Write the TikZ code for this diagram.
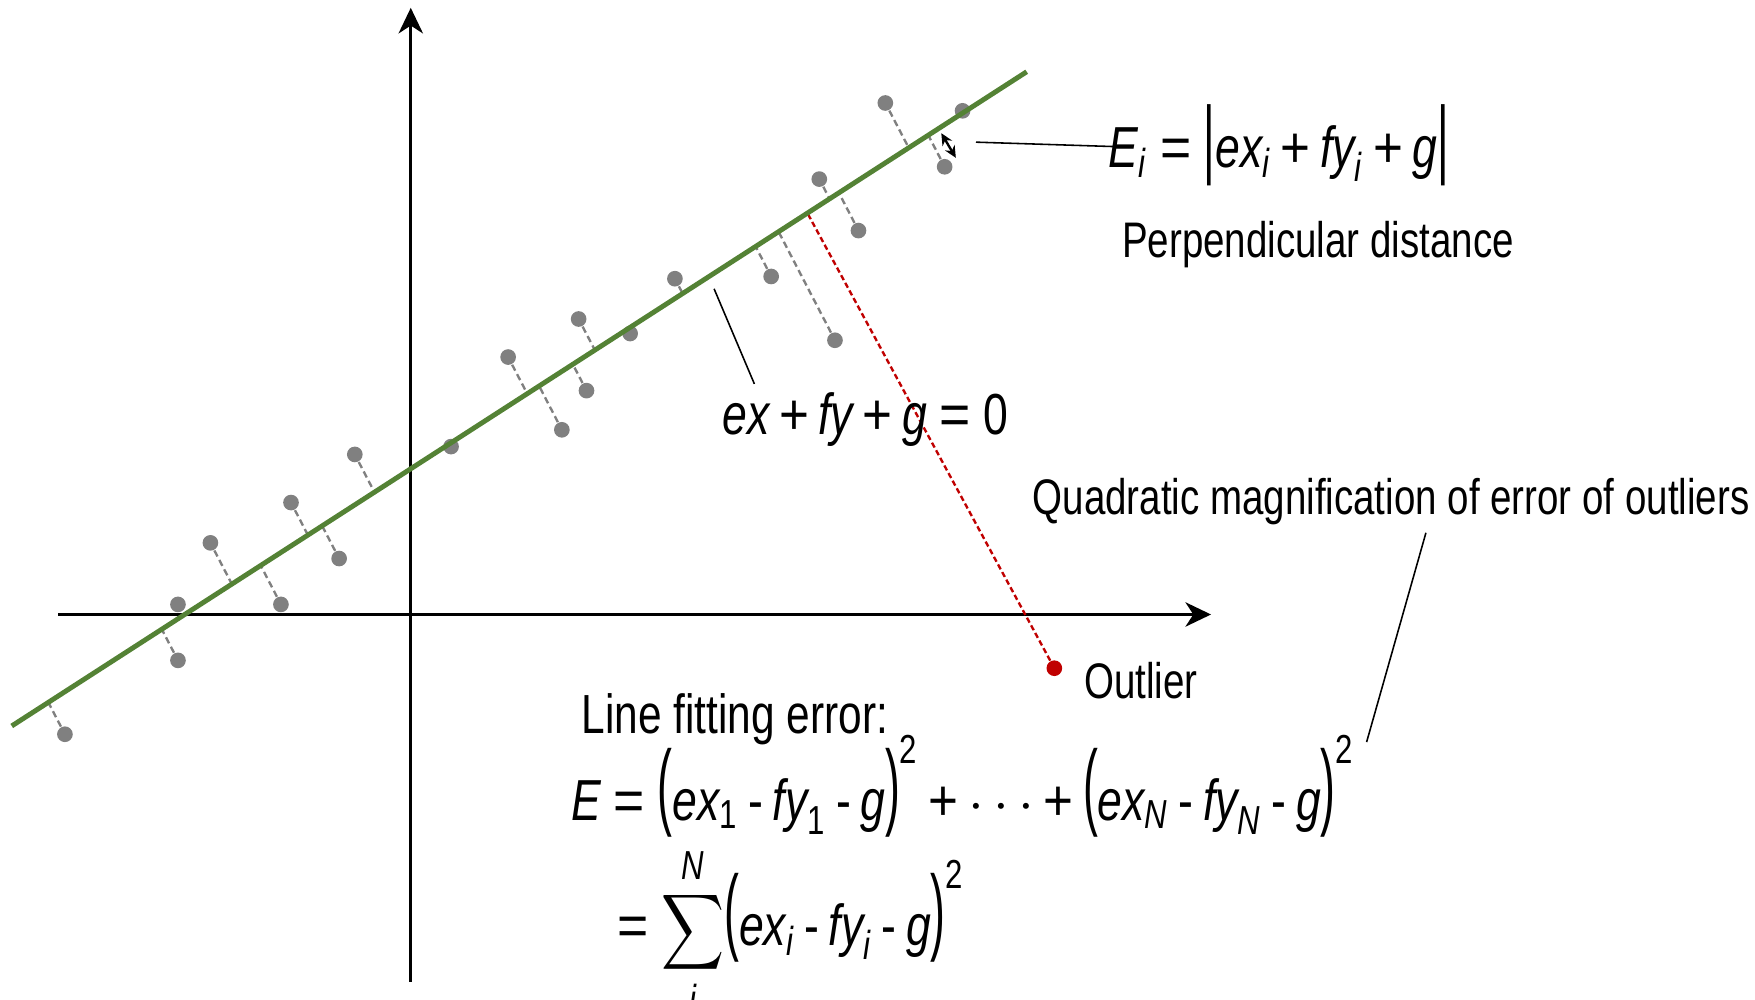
\documentclass[tikz,border=0pt]{standalone}
\usepackage{fontspec}
\usepackage{amsmath}
\usepackage{graphicx}
\setmainfont{Liberation Sans}[FakeStretch=0.77]
\usetikzlibrary{arrows.meta,calc}
\definecolor{fitgreen}{RGB}{84,130,53}
\definecolor{dotgray}{RGB}{128,128,128}
\definecolor{outred}{RGB}{192,0,0}
\newcommand\V[1]{\text{\itshape #1}}
\newcommand\mns{\mathbin{\text{-}}}
\newcommand\pls{\mathbin{\text{\scalebox{1.15}[1]{+}}}}
\newcommand\eqs{\mathrel{\text{\scalebox{1.2}[1]{=}}}}
\newcommand\lpar{\mathopen{\text{\raisebox{0.8pt}{\scalebox{1}[1.65]{(}}}}}
\newcommand\rpar{\mathclose{\text{\raisebox{0.8pt}{\scalebox{1}[1.65]{)}}}}}
\newcommand\lbar{\mathopen{\text{\scalebox{1}[1.5]{\textbar}}}}
\newcommand\rbar{\mathclose{\text{\scalebox{1}[1.5]{\textbar}}}}
\newcommand\bsum{\mathop{\text{\scalebox{0.77}[0.93]{$\displaystyle\sum$}}}\limits}
\begin{document}
\medmuskip=3mu plus 1mu
\thickmuskip=4mu plus 2mu
\begin{tikzpicture}[x=0.01cm,y=-0.01cm,
  axis/.style={line width=0.7pt,-{Stealth[length=6.5pt,width=6.2pt,inset=2pt]}},
  fitline/.style={fitgreen,line width=1.25pt},
  dot/.style={circle,fill=dotgray,inner sep=0pt,minimum size=0.14cm},
  outdot/.style={circle,fill=outred,inner sep=0pt,minimum size=0.14cm},
  gdash/.style={dotgray,line width=0.6pt,dash pattern=on 1.7pt off 1pt},
  rdash/.style={outred,line width=0.6pt,dash pattern=on 1.4pt off 0.8pt},
  leader/.style={black,line width=0.4pt},
  dblarrow/.style={line width=0.6pt,{Stealth[length=3pt,width=2.8pt]}-{Stealth[length=3pt,width=2.8pt]}},
  lbl/.style={inner sep=0pt,anchor=base west,font=\fontsize{12.7}{15}\selectfont},
  biglbl/.style={inner sep=0pt,anchor=base west,font=\fontsize{14}{17}\selectfont},
  mathlbl/.style={inner sep=0pt,anchor=base west,font=\fontsize{14.7}{18}\selectfont}]
\useasboundingbox (0,0) rectangle (1568,893);

% axes
\coordinate (xl) at (52,549);
\coordinate (xr) at (1082,549);
\coordinate (yb) at (367,877);
\coordinate (yt) at (367,7);
\draw[axis] (xl) -- (xr);
\draw[axis] (yb) -- (yt);

% fitted line end points
\coordinate (A) at (10.5,648.6);
\coordinate (B) at (917.3,64.1);

% data points with dashed residuals
\foreach \n/\px/\py in {1/58/656, 2/159/590, 3/188/485, 4/251/540, 5/260/449,
  6/303/499, 7/317/406, 8/454/319, 9/502/384, 10/517/285, 11/524/349,
  12/603/249, 13/689/247, 14/746/304, 15/732/160, 16/767/206, 17/791/92, 18/844/149} {
  \node[dot] (d\n) at (\px,\py) {};
  \coordinate (q\n) at ($(d\n.center)+(-52,-100)$);
  \coordinate (f\n) at (intersection of A--B and d\n.center--q\n);
  \draw[gdash] (d\n) -- (f\n);
}
% points lying on the line
\foreach \n/\px/\py in {19/159/540, 20/403/399, 21/563/298, 22/860/99} {
  \node[dot] (d\n) at (\px,\py) {};
}

% outlier
\node[outdot] (out) at (942,597) {};
\coordinate (oq) at ($(out.center)+(-222,-409)$);
\coordinate (of) at (intersection of A--B and out.center--oq);
\draw[rdash] (out) -- (of);

% fitted line
\draw[fitline] (A) -- (B);

% perpendicular distance arrow
\coordinate (da1) at (841,119);
\coordinate (da2) at (854,141);
\draw[dblarrow] (da1) -- (da2);

% texts
\node[mathlbl] (Ei) at (990,150) {$\V{E}_{\V{i}}\eqs\lbar\V{ex}_{\V{i}}\pls\V{fy}_{\V{i}}\pls\V{g}\rbar$};
\node[lbl] (perp) at (1002,230) {Perpendicular distance};
\node[mathlbl] (lineeq) at (645,388) {$\V{ex}\pls\V{fy}\pls\V{g}\eqs\text{0}$};
\node[lbl] (quad) at (922,460) {Quadratic magnification of error of outliers};
\node[lbl] (outl) at (968,624) {Outlier};
\node[biglbl] (lfe) at (519,655) {Line fitting error:};
\node[mathlbl] (Eq1) at (510,733) {$\V{E}\eqs\lpar\V{ex}_{\text{1}}\mns\V{fy}_{\text{1}}\mns\V{g}\rpar^{\text{2}}\pls\cdots\pls\lpar\V{ex}_{\V{N}}\mns\V{fy}_{\V{N}}\mns\V{g}\rpar^{\text{2}}$};
\node[mathlbl] (Eq2) at (551,845) {$\eqs\bsum_{\V{i}}^{\V{N}}\lpar\V{ex}_{\V{i}}\mns\V{fy}_{\V{i}}\mns\V{g}\rpar^{\text{2}}$};

% leader lines
\coordinate (l1a) at (872,127);
\coordinate (l1b) at (997,131);
\draw[leader] (l1a) -- (l1b);
\coordinate (l2a) at (638,258);
\coordinate (l2b) at (674,343);
\draw[leader] (l2a) -- (l2b);
\coordinate (l3a) at (1274,476);
\coordinate (l3b) at (1221,663);
\draw[leader] (l3a) -- (l3b);
\end{tikzpicture}
\end{document}
